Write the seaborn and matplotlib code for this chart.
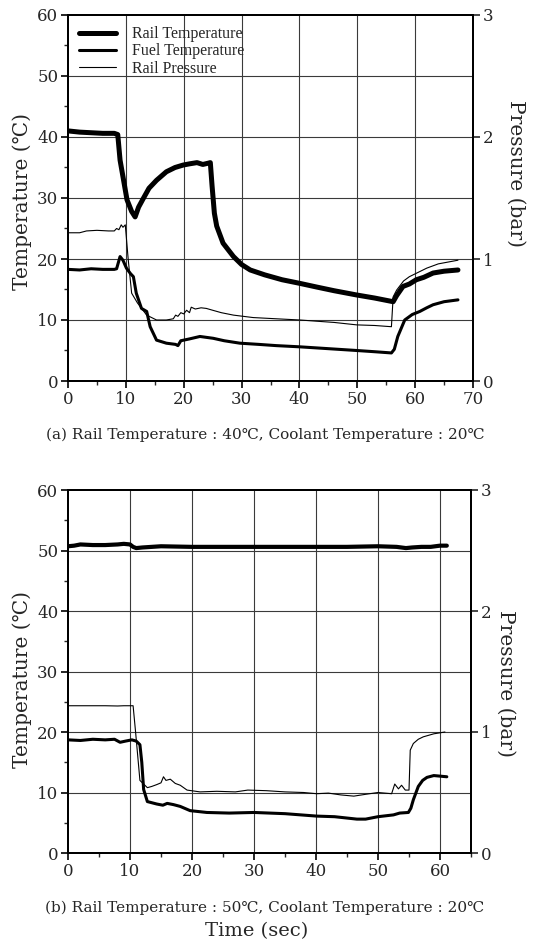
import numpy as np
import pandas as pd
import matplotlib
matplotlib.use("Agg")
import matplotlib.pyplot as plt
import seaborn as sns
from matplotlib.ticker import MultipleLocator

# ---------------- data: panel (a) ----------------
ta_rail = [0, 2, 4, 6, 8, 8.6, 9.0, 9.5, 10.2, 11.0, 11.6, 12.2, 13.0, 14.0, 15.3, 17.0, 18.5, 19.9,
           21.0, 22.3, 23.3, 24.2, 24.6, 24.9, 25.3, 25.7, 26.8, 28.6, 30.0, 31.5, 34, 37, 40.1, 43, 46,
           49.9, 53, 56.2, 56.8, 57.9, 59, 60.2, 61.5, 63.1, 65, 67.4]
rail_a = [41.0, 40.8, 40.7, 40.6, 40.6, 40.4, 36.2, 33.5, 29.7, 27.8, 26.9, 28.5, 29.9, 31.6, 32.9, 34.3,
          35.0, 35.4, 35.6, 35.8, 35.5, 35.7, 35.8, 32.0, 27.5, 25.4, 22.6, 20.4, 19.1, 18.2, 17.4, 16.6,
          16.0, 15.4, 14.8, 14.1, 13.6, 13.0, 14.0, 15.5, 15.9, 16.6, 17.0, 17.7, 18.0, 18.2]

ta_fuel = [0, 2, 4, 6, 8, 8.4, 9.0, 9.5, 10.1, 10.8, 11.3, 11.8, 12.7, 13.6, 14.2, 15.3, 17.0, 18.6, 19.0,
           19.5, 21, 22.8, 25.1, 27, 29.7, 33, 36, 40.1, 45, 49.9, 53, 55.9, 56.4, 57.0, 58.2, 59.5, 60.8,
           62, 63.1, 65, 67.4]
fuel_a = [18.3, 18.2, 18.4, 18.3, 18.3, 18.4, 20.4, 19.8, 18.5, 17.6, 17.1, 14.4, 11.9, 11.4, 8.9, 6.7,
          6.2, 6.0, 5.8, 6.6, 6.9, 7.3, 7.0, 6.6, 6.2, 6.0, 5.8, 5.6, 5.3, 5.0, 4.8, 4.6, 5.2, 7.3, 10.0,
          10.9, 11.4, 12.0, 12.5, 13.0, 13.3]

ta_pres = [0, 2, 3.2, 5, 7, 8.0, 8.4, 8.8, 9.2, 9.5, 9.9, 10.4, 11.0, 12.0, 13.6, 15.3, 17.0, 18.2, 18.6,
           19.0, 19.5, 20.0, 20.5, 21.0, 21.3, 22, 23, 23.9, 25, 26.5, 28.6, 32, 36, 40.1, 43, 46, 49.9,
           53, 55.9, 56.2, 56.8, 58, 59.0, 60.5, 62.0, 64, 67.4]
pres_a = [1.215, 1.215, 1.23, 1.235, 1.23, 1.23, 1.25, 1.24, 1.28, 1.26, 1.28, 1.0, 0.72, 0.64, 0.54,
          0.50, 0.50, 0.51, 0.54, 0.53, 0.56, 0.55, 0.58, 0.56, 0.605, 0.59, 0.60, 0.595, 0.58, 0.56,
          0.54, 0.52, 0.51, 0.50, 0.49, 0.48, 0.46, 0.455, 0.445, 0.69, 0.745, 0.82, 0.855, 0.89, 0.925,
          0.96, 0.99]

# ---------------- data: panel (b) ----------------
tb_rail = [0, 1, 2, 4, 6, 8, 9, 10, 10.5, 11, 12, 15, 20, 25, 30, 35, 40, 45, 50, 53, 54.5, 55.5, 57,
           58.5, 60, 61.1]
rail_b = [50.7, 50.8, 51.0, 50.9, 50.9, 51.0, 51.1, 51.0, 50.6, 50.4, 50.5, 50.7, 50.6, 50.6, 50.6,
          50.6, 50.6, 50.6, 50.7, 50.6, 50.4, 50.5, 50.6, 50.6, 50.8, 50.8]

tb_fuel = [0, 2, 4, 6, 7.5, 8.4, 9.3, 10.3, 11.0, 11.6, 11.9, 12.2, 12.8, 14.3, 15.3, 16.0, 17.0, 18.1,
           19.7, 22.4, 26, 30.0, 35, 40.1, 43, 46.6, 48, 50.0, 52.5, 53.5, 54.9, 55.3, 55.7, 56.5, 57.2,
           57.9, 59.0, 61.1]
fuel_b = [18.7, 18.6, 18.8, 18.7, 18.8, 18.3, 18.5, 18.7, 18.5, 17.9, 15.0, 10.5, 8.5, 8.1, 7.9, 8.2,
          8.0, 7.7, 7.0, 6.7, 6.6, 6.7, 6.5, 6.1, 6.0, 5.6, 5.6, 6.0, 6.3, 6.6, 6.7, 7.4, 8.8, 11.0, 12.0,
          12.5, 12.8, 12.6]

tb_pres = [0, 3, 6, 8, 9, 10.5, 10.9, 11.6, 12.8, 13.5, 14.3, 15.0, 15.4, 15.8, 16.5, 17.3, 18.1, 19.2,
           21.3, 24, 27, 29, 32.0, 35, 38, 40.1, 42, 44, 46.1, 48, 50, 52.2, 52.7, 53.3, 53.8, 54.4, 55.0,
           55.2, 55.7, 56.5, 57.3, 59, 60.8]
pres_b = [1.217, 1.217, 1.217, 1.215, 1.217, 1.217, 1.0, 0.60, 0.54, 0.55, 0.565, 0.58, 0.63, 0.60,
          0.61, 0.575, 0.56, 0.52, 0.505, 0.51, 0.505, 0.52, 0.515, 0.505, 0.50, 0.49, 0.495, 0.48, 0.47,
          0.485, 0.50, 0.49, 0.57, 0.53, 0.56, 0.52, 0.52, 0.85, 0.905, 0.94, 0.96, 0.985, 1.0]

legend_labels = ["Rail Temperature", "Fuel Temperature", "Rail Pressure"]
captions = ["(a) Rail Temperature : 40℃, Coolant Temperature : 20℃",
            "(b) Rail Temperature : 50℃, Coolant Temperature : 20℃"]

# ---------------- style ----------------
sns.set_style("ticks")
SERIF_W = ['DejaVu Serif', 'Noto Sans CJK JP']
SERIF_N = ['Liberation Serif', 'DejaVu Serif']
plt.rcParams['font.family'] = SERIF_W
plt.rcParams['axes.linewidth'] = 1.4

fig = plt.figure(figsize=(5.33, 9.47), dpi=100)

W, H = 533, 947
def rect(l, t, r, b):
    return [l / W, 1 - b / H, (r - l) / W, (b - t) / H]

panels = [
    dict(r=rect(68, 15, 473, 381), xmax=70, xt=np.arange(0, 71, 10),
         rail=(ta_rail, rail_a), fuel=(ta_fuel, fuel_a), pres=(ta_pres, pres_a), rlw=3.6, legend=True,
         ylab=(22, 202), plab=(516, 173)),
    dict(r=rect(68, 490, 471, 853), xmax=65, xt=np.arange(0, 61, 10),
         rail=(tb_rail, rail_b), fuel=(tb_fuel, fuel_b), pres=(tb_pres, pres_b), rlw=3.0, legend=False,
         ylab=(22, 679), plab=(506, 683)),
]

grid_c = "#3a3a3a"
for i, p in enumerate(panels):
    ax = fig.add_axes(p["r"])
    ax2 = ax.twinx()
    df_r = pd.DataFrame({"t": p["rail"][0], "v": p["rail"][1]})
    df_f = pd.DataFrame({"t": p["fuel"][0], "v": p["fuel"][1]})
    df_p = pd.DataFrame({"t": p["pres"][0], "v": p["pres"][1]})
    sns.lineplot(data=df_r, x="t", y="v", ax=ax, color="black", linewidth=p["rlw"],
                 estimator=None, sort=False, label=legend_labels[0], legend=False)
    sns.lineplot(data=df_f, x="t", y="v", ax=ax, color="black", linewidth=2.2,
                 estimator=None, sort=False, label=legend_labels[1], legend=False)
    sns.lineplot(data=df_p, x="t", y="v", ax=ax2, color="black", linewidth=0.8,
                 estimator=None, sort=False, label=legend_labels[2], legend=False)

    ax.set_xlim(0, p["xmax"])
    ax.set_ylim(0, 60)
    ax2.set_ylim(0, 3)
    ax.set_xticks(p["xt"])
    ax.xaxis.set_minor_locator(MultipleLocator(5))
    ax.set_yticks(np.arange(0, 61, 10))
    ax.yaxis.set_minor_locator(MultipleLocator(5))
    ax2.set_yticks([0, 1, 2, 3])
    for gx in range(10, p["xmax"], 10):
        ax.axvline(gx, color=grid_c, lw=0.8, zorder=0)
    for gy in range(10, 60, 10):
        ax.axhline(gy, color=grid_c, lw=0.8, zorder=0)

    ax.tick_params(axis="both", which="major", direction="out", length=5, width=1.2,
                   labelsize=12, color="black", pad=2)
    ax.tick_params(axis="both", which="minor", direction="out", length=3, width=1.0)
    ax2.tick_params(axis="y", which="major", direction="out", length=5, width=1.2,
                    labelsize=12, pad=2)
    for s in list(ax.spines.values()) + list(ax2.spines.values()):
        s.set_linewidth(1.4)
        s.set_color("black")

    ax.set_xlabel("")
    ax.set_ylabel("")
    ax2.set_ylabel("")
    fig.text(p["ylab"][0] / W, 1 - p["ylab"][1] / H, "Temperature (℃)", rotation=90,
             ha="center", va="center", fontsize=14.5)
    fig.text(p["plab"][0] / W, 1 - p["plab"][1] / H, "Pressure (bar)", rotation=270,
             ha="center", va="center", fontsize=14.5)

    if p["legend"]:
        h1, l1 = ax.get_legend_handles_labels()
        h2, l2 = ax2.get_legend_handles_labels()
        leg = ax.legend(h1 + h2, l1 + l2, loc="upper left", frameon=False,
                        prop={"family": SERIF_N, "size": 11.5},
                        handlelength=2.3, handletextpad=1.0, labelspacing=0.08,
                        borderaxespad=0.3, bbox_to_anchor=(0.0, 1.0))

fig.text(265 / W, 1 - 435 / H, captions[0], ha="center", va="center", fontsize=11)
fig.text(265 / W, 1 - 908 / H, captions[1], ha="center", va="center", fontsize=11)
fig.text(257 / W, 1 - 931 / H, "Time (sec)", ha="center", va="center", fontsize=14)

fig.savefig("out.png", dpi=100, facecolor="white")
